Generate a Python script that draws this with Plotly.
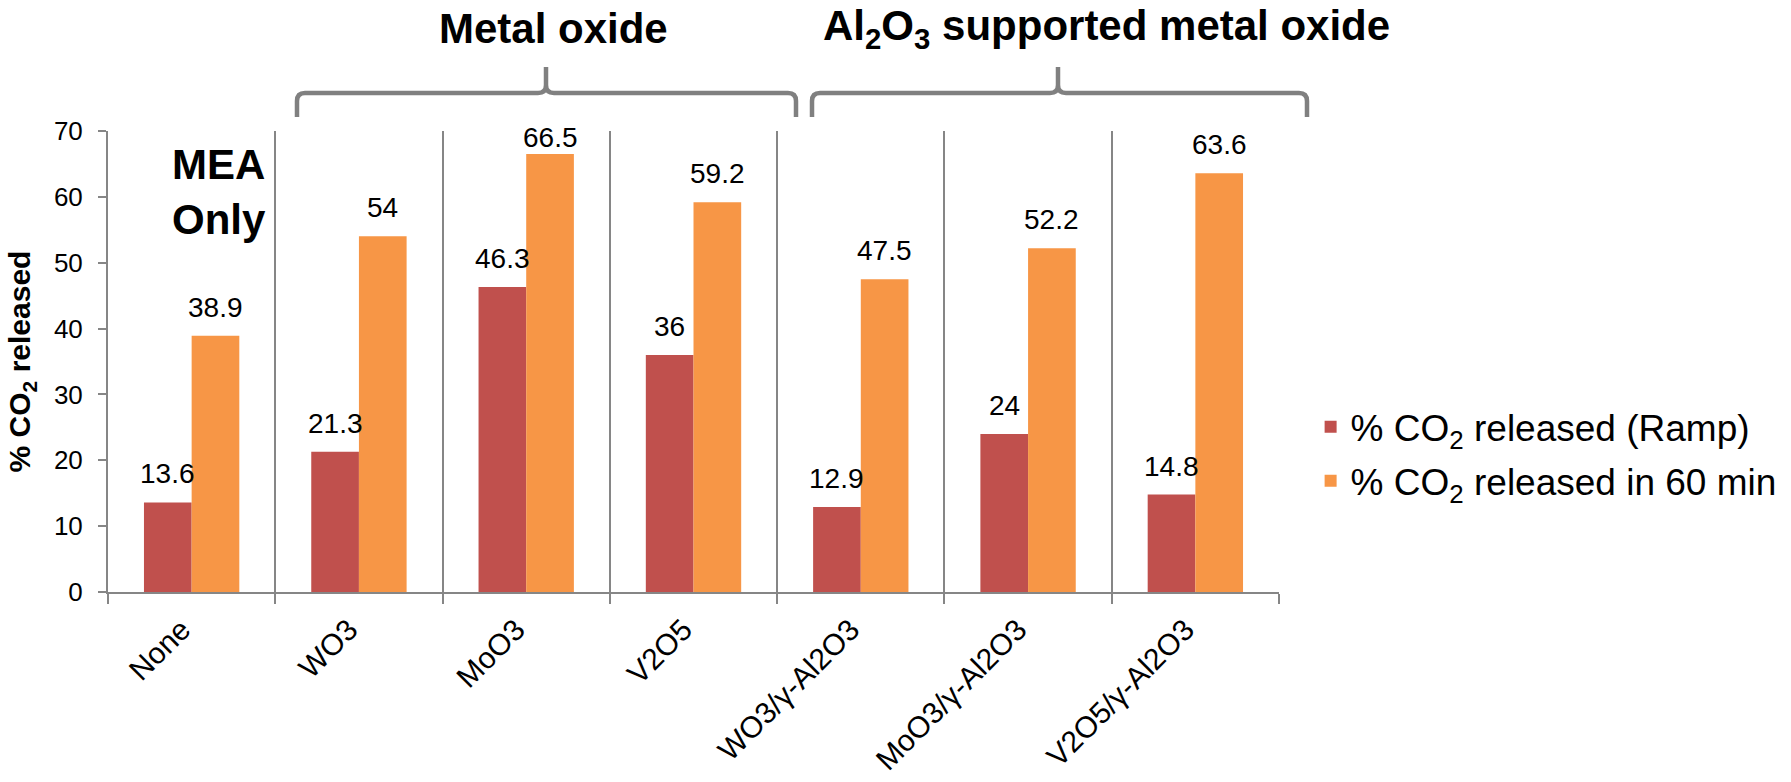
import plotly.graph_objects as go

# ---- data ----
categories = ["None", "WO3", "MoO3", "V2O5", "WO3/γ-Al2O3", "MoO3/γ-Al2O3", "V2O5/γ-Al2O3"]
ramp_values = [13.6, 21.3, 46.3, 36, 12.9, 24, 14.8]
min60_values = [38.9, 54, 66.5, 59.2, 47.5, 52.2, 63.6]
series_names = ["% CO<sub>2</sub> released (Ramp)", "% CO<sub>2</sub> released in 60 min"]
y_ticks = [0, 10, 20, 30, 40, 50, 60, 70]

# ---- styling ----
W, H = 1791, 782
M_L, M_R, M_T, M_B = 108, 512, 131, 190
PLOT_W = W - M_L - M_R
PLOT_H = H - M_T - M_B
Y_MAX = 70
BARGAP = 0.43
RED = "#C0504D"
ORANGE = "#F79646"
GREY = "#868686"
FONT = "Liberation Sans, Arial, sans-serif"

px_per_unit = PLOT_H / Y_MAX
bar_w = (1 - BARGAP) / 2


def px_to_paper(x, y):
    return (x - M_L) / PLOT_W, (H - M_B - y) / PLOT_H


def brace_path(x0, xm, x1, y_bar=93, y_end=117, y_tip=67, r=8):
    pts = [
        ("M", (x0, y_end)), ("L", (x0, y_bar + r)), ("Q", (x0, y_bar), (x0 + r, y_bar)),
        ("L", (xm - r, y_bar)), ("Q", (xm, y_bar), (xm, y_bar - r)), ("L", (xm, y_tip)),
        ("M", (xm, y_bar - r)), ("Q", (xm, y_bar), (xm + r, y_bar)),
        ("L", (x1 - r, y_bar)), ("Q", (x1, y_bar), (x1, y_bar + r)), ("L", (x1, y_end)),
    ]
    out = []
    for seg in pts:
        cmd, coords = seg[0], seg[1:]
        parts = []
        for (x, y) in coords:
            px, py = px_to_paper(x, y)
            parts.append(f"{px:.5f},{py:.5f}")
        out.append(cmd + " ".join(parts))
    return " ".join(out)


fig = go.Figure()
fig.add_trace(go.Bar(x=categories, y=ramp_values, name=series_names[0], legendgroup="ramp",
                     marker=dict(color=RED, line=dict(width=0))))
fig.add_trace(go.Bar(x=categories, y=min60_values, name=series_names[1], legendgroup="min60",
                     marker=dict(color=ORANGE, line=dict(width=0))))

# value labels above each bar
LABEL_LIFT = 11
LABEL_ROOM = 24
annotations = []
for series, offset in ((ramp_values, -bar_w / 2), (min60_values, bar_w / 2)):
    for i, v in enumerate(series):
        shift = min(LABEL_LIFT, (Y_MAX - v) * px_per_unit - LABEL_ROOM)
        annotations.append(dict(
            x=i + offset, y=v, xref="x", yref="y", text=f"{v:g}", showarrow=False,
            xanchor="center", yanchor="bottom", yshift=shift,
            font=dict(family=FONT, size=28, color="black")))

# group headings
gx1, gy = px_to_paper(553, 29)
gx2, _ = px_to_paper(1106, 29)
annotations.append(dict(x=gx1, y=gy, xref="paper", yref="paper", text="Metal oxide",
                        showarrow=False, xanchor="center", yanchor="middle",
                        font=dict(family=FONT, size=42, color="black", weight="bold")))
annotations.append(dict(x=gx2, y=gy, xref="paper", yref="paper",
                        text="Al<sub>2</sub>O<sub>3</sub> supported metal oxide",
                        showarrow=False, xanchor="center", yanchor="middle",
                        font=dict(family=FONT, size=42, color="black", weight="bold")))
mx, my = px_to_paper(219, 192)
annotations.append(dict(x=mx, y=my, xref="paper", yref="paper", text="MEA<br>Only",
                        showarrow=False, xanchor="center", yanchor="middle", align="left",
                        font=dict(family=FONT, size=42, color="black", weight="bold")))

shapes = [
    dict(type="path", xref="paper", yref="paper", path=brace_path(297, 546, 796),
         line=dict(color="#808080", width=4.5)),
    dict(type="path", xref="paper", yref="paper", path=brace_path(812, 1058, 1307),
         line=dict(color="#808080", width=4.5)),
]

fig.update_layout(
    width=W, height=H, autosize=False,
    margin=dict(l=M_L, r=M_R, t=M_T, b=M_B, pad=0, autoexpand=False),
    paper_bgcolor="white", plot_bgcolor="white",
    barmode="group", bargap=BARGAP, bargroupgap=0,
    font=dict(family=FONT, color="black"),
    annotations=annotations, shapes=shapes,
    legend=dict(x=1.027, y=0.299, xanchor="left", yanchor="middle",
                traceorder="grouped", tracegroupgap=3,
                font=dict(family=FONT, size=37, color="black"),
                bgcolor="rgba(0,0,0,0)"),
    xaxis=dict(type="category", tickson="boundaries", ticks="outside", ticklen=10,
               tickcolor=GREY, tickwidth=2, showgrid=True, gridcolor=GREY, gridwidth=1.5,
               showline=True, linecolor=GREY, linewidth=2, tickangle=-45,
               ticklabelshift=-10, ticklabelstandoff=6, automargin=False,
               tickfont=dict(family=FONT, size=30, color="black")),
    yaxis=dict(range=[0, Y_MAX], tickvals=y_ticks, ticks="outside", ticklen=8,
               tickcolor=GREY, tickwidth=2, showgrid=False, zeroline=False,
               showline=True, linecolor=GREY, linewidth=2, ticklabelstandoff=10,
               automargin=False,
               tickfont=dict(family=FONT, size=26, color="black"),
               title=dict(text="% CO<sub>2</sub> released", standoff=14,
                          font=dict(family=FONT, size=30, color="black", weight="bold"))),
)

fig.write_html("out.html")
